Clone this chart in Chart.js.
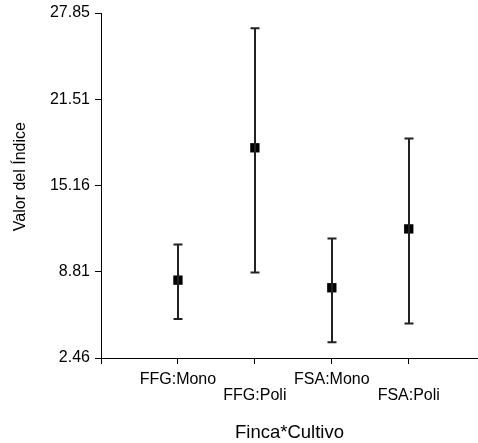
<!DOCTYPE html>
<html>
<head>
<meta charset="utf-8">
<script src="https://cdn.jsdelivr.net/npm/chart.js@4"></script>
<style>
  html, body { margin: 0; padding: 0; background: #ffffff; }
  #wrap { width: 478px; height: 443px; }
</style>
</head>
<body>
<div id="wrap"><canvas id="c" width="478" height="443"></canvas></div>
<script>
// Categories (Finca*Cultivo)
const categories = ['FFG:Mono', 'FFG:Poli', 'FSA:Mono', 'FSA:Poli'];
// Mean of the index per category
const means = [8.19, 17.93, 7.63, 11.96];
// Lower and upper limits of the error bars
const lowers = [5.33, 8.75, 3.61, 5.00];
const uppers = [10.81, 26.73, 11.25, 18.62];
// Y tick labels shown on the axis
const yTicks = [2.46, 8.81, 15.16, 21.51, 27.85];

const points = categories.map((c, i) => ({ x: i + 1, y: means[i] }));

const errorBars = {
  id: 'errorBars',
  afterDatasetsDraw(chart) {
    const ctx = chart.ctx;
    const xs = chart.scales.x, ys = chart.scales.y;
    ctx.save();
    ctx.strokeStyle = '#222222';
    ctx.lineWidth = 2;
    const cap = 4.5;
    categories.forEach((c, i) => {
      const px = Math.round(xs.getPixelForValue(i + 1));
      const yl = ys.getPixelForValue(lowers[i]);
      const yu = ys.getPixelForValue(uppers[i]);
      ctx.beginPath();
      ctx.moveTo(px, yl); ctx.lineTo(px, yu);
      ctx.moveTo(px - cap, yl); ctx.lineTo(px + cap, yl);
      ctx.moveTo(px - cap, yu); ctx.lineTo(px + cap, yu);
      ctx.stroke();
    });
    ctx.restore();
  }
};

new Chart(document.getElementById('c'), {
  type: 'scatter',
  data: {
    datasets: [{
      data: points,
      pointStyle: 'rect',
      pointRadius: 6.6,
      pointHoverRadius: 6.6,
      backgroundColor: '#000000',
      borderColor: '#000000',
      borderWidth: 0
    }]
  },
  options: {
    responsive: false,
    devicePixelRatio: 1,
    animation: false,
    events: [],
    layout: { autoPadding: false, padding: { top: 13, right: 0, bottom: 0, left: 0 } },
    plugins: {
      legend: { display: false },
      tooltip: { enabled: false }
    },
    scales: {
      x: {
        type: 'linear',
        min: 0,
        max: 4.9,
        afterBuildTicks(scale) { scale.ticks = [0, 1, 2, 3, 4].map(v => ({ value: v })); },
        afterFit(scale) { scale.height = 85; scale.paddingRight = 0; scale.paddingLeft = 0; },
        border: { display: true, color: '#000000', width: 1 },
        grid: { display: true, drawOnChartArea: false, drawTicks: true, tickLength: 6, tickColor: '#000000', tickWidth: 1 },
        ticks: {
          autoSkip: false,
          maxRotation: 0,
          padding: 8,
          color: '#000000',
          font: { family: 'Liberation Sans, Arial, sans-serif', size: 16, lineHeight: 1.0 },
          callback(v) {
            const i = Math.round(v) - 1;
            if (i < 0 || i >= categories.length) return '';
            return (i % 2 === 0) ? [categories[i], ''] : ['', categories[i]];
          }
        },
        title: {
          display: true,
          text: 'Finca*Cultivo',
          color: '#000000',
          padding: { top: 0, bottom: -1 },
          font: { family: 'Liberation Sans, Arial, sans-serif', size: 18.5 }
        }
      },
      y: {
        type: 'linear',
        min: 2.46,
        max: 27.85,
        afterBuildTicks(scale) { scale.ticks = yTicks.map(v => ({ value: v })); },
        afterFit(scale) { scale.width = 101; scale.paddingTop = 0; scale.paddingBottom = 0; },
        border: { display: true, color: '#000000', width: 1 },
        grid: { display: true, drawOnChartArea: false, drawTicks: true, tickLength: 6, tickColor: '#000000', tickWidth: 1 },
        ticks: {
          padding: 5,
          color: '#000000',
          font: { family: 'Liberation Sans, Arial, sans-serif', size: 16 },
          callback(v) { return v.toFixed(2); }
        },
        title: {
          display: true,
          text: '    Valor del Índice',
          color: '#000000',
          padding: { top: 11, bottom: 0 },
          font: { family: 'Liberation Sans, Arial, sans-serif', size: 16 }
        }
      }
    }
  },
  plugins: [errorBars]
});
</script>
</body>
</html>
